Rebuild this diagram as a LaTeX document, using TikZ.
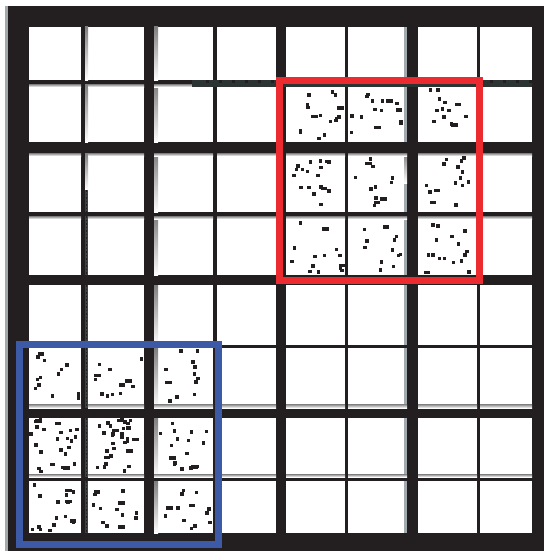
\documentclass[tikz,border=0pt]{standalone}
\definecolor{ink}{HTML}{231F20}
\definecolor{shade}{HTML}{7E868A}
\definecolor{lshade}{HTML}{A3AAAE}
\definecolor{dshade}{HTML}{2B3433}
\definecolor{mshade}{HTML}{3B4444}
\definecolor{rbox}{HTML}{EC2B30}
\definecolor{bbox}{HTML}{3C5AA5}
\tikzset{
  cell/.style={fill=white},
  dotsq/.style={fill=ink},
  markbox/.style={line width=7pt}
}
\begin{document}
\begin{tikzpicture}[x=1pt,y=-1pt]
\useasboundingbox (0,0) rectangle (544,551);
\fill[white] (0,0) rectangle (544,551);
\fill[lshade] (5,6) rectangle (8,551);
\fill[ink] (8,6) rectangle (544,551);
% white cells
\foreach \xa/\xb in {29/81,85/144,154/213,217/276,286/345,348/407,418/477,480/532}{
  \foreach \ya/\yb in {27/80,84/142,153/212,216/275,285/345,348/408,418/477,481/533}{
    \fill[cell] (\xa,\ya) rectangle (\xb,\yb);
  }
}
% shadow strips (vertical)
\foreach \ya/\yb in {27/80,84/142,153/190}{
  \fill[shade] (85,\ya) rectangle (88,\yb);
}
\foreach \ya/\yb in {190/212,216/275,285/345,348/408,418/477,481/533}{
  \fill[mshade] (85,\ya) rectangle (88,\yb);
  \draw[ink, line width=1pt, dash pattern=on 1.5pt off 2pt] (86.5,\ya) -- (86.5,\yb);
}
\foreach \ya/\yb in {27/80,84/142,153/212,216/275,285/345,348/408,418/477,481/533}{
  \fill[shade] (154,\ya) rectangle (158,\yb);
  \fill[lshade] (404,\ya) rectangle (407,\yb);
}
\fill[shade] (404,153) rectangle (407,183);
% shadow strips (horizontal)
\foreach \xa/\xb in {29/81,88/144,154/192}{
  \fill[shade] (\xa,84) rectangle (\xb,87);
}
\fill[dshade] (192,80) rectangle (532,87);
\foreach \tx in {206,219,232,245,258,271,490,503,516,529}{
  \fill[ink] (\tx,80) rectangle ++(3,2.5);
}
\foreach \xa/\xb in {29/81,88/144,154/213,217/276,286/345,348/407,418/477,480/532}{
  \fill[shade] (\xa,153) rectangle (\xb,156);
  \fill[shade] (\xa,216) rectangle (\xb,219);
  \fill[shade] (\xa,404) rectangle (\xb,408);
  \fill[shade] (\xa,474) rectangle (\xb,477);
}
% random dots
\pgfmathsetseed{4217}
\foreach \xa/\ya/\xb/\yb/\n in {
  286/87/345/142/17, 348/87/404/142/15, 418/87/477/142/13,
  286/156/345/212/18, 348/156/404/212/13, 418/156/477/212/15,
  286/219/345/275/14, 348/219/404/275/12, 418/219/477/275/16,
  29/348/81/404/13, 88/348/144/404/12, 158/348/213/404/13,
  29/418/81/474/28, 88/418/144/474/32, 158/418/213/474/17,
  29/481/81/533/17, 88/481/144/533/14, 158/481/213/533/13}{
  \foreach \k in {1,...,\n}{
    \pgfmathsetmacro\px{\xa+rnd*(\xb-\xa-4)}
    \pgfmathsetmacro\py{\ya+rnd*(\yb-\ya-4)}
    \pgfmathsetmacro\pw{rnd<0.15 ? 6.5 : 3.5}
    \fill[dotsq] (\px,\py) rectangle ++(\pw,3.5);
  }
}
% marking boxes
\draw[markbox, rbox] (279.5,80.5) rectangle (479.5,280.5);
\draw[markbox, bbox] (19.5,344.5) rectangle (218.5,544.5);
\end{tikzpicture}
\end{document}
